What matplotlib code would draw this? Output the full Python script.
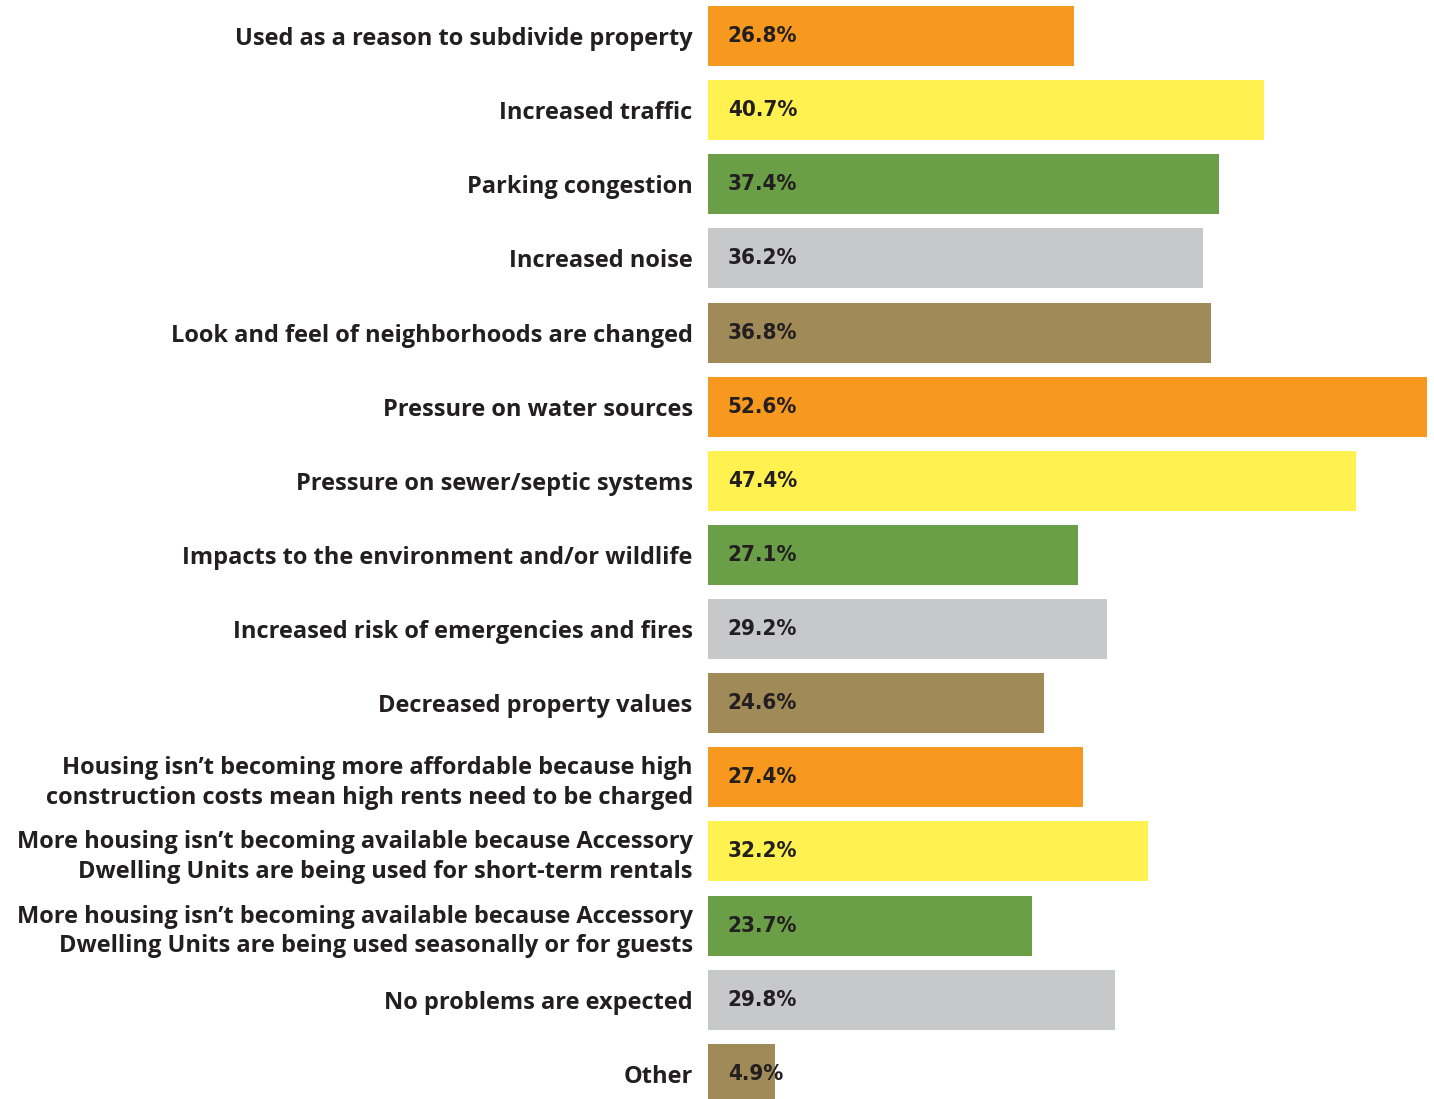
import matplotlib.pyplot as plt
from matplotlib import font_manager

# Survey responses: expected problems with Accessory Dwelling Units
categories = [
    "Used as a reason to subdivide property",
    "Increased traffic",
    "Parking congestion",
    "Increased noise",
    "Look and feel of neighborhoods are changed",
    "Pressure on water sources",
    "Pressure on sewer/septic systems",
    "Impacts to the environment and/or wildlife",
    "Increased risk of emergencies and fires",
    "Decreased property values",
    "Housing isn\u2019t becoming more affordable because high\nconstruction costs mean high rents need to be charged",
    "More housing isn\u2019t becoming available because Accessory\nDwelling Units are being used for short-term rentals",
    "More housing isn\u2019t becoming available because Accessory\nDwelling Units are being used seasonally or for guests",
    "No problems are expected",
    "Other",
]
percent = [26.8, 40.7, 37.4, 36.2, 36.8, 52.6, 47.4, 27.1, 29.2, 24.6,
           27.4, 32.2, 23.7, 29.8, 4.9]

palette = ["#F7991F", "#FFF150", "#6A9F48", "#C7C8CA", "#A08B58"]
colors = [palette[i % len(palette)] for i in range(len(percent))]

# condensed bold face for the value labels, if one is installed
condensed = [f for f in font_manager.fontManager.ttflist
             if f.stretch == "condensed" and f.weight in ("bold", 700)]
if condensed:
    value_font = dict(fname=condensed[0].fname, size=16)
    value_size = 16
else:
    value_font = dict(family="DejaVu Sans", weight="bold", size=14)
    value_size = 14
value_prop = font_manager.FontProperties(**value_font)

fig = plt.figure(figsize=(14.34, 10.99), dpi=100)
ax = fig.add_axes([708 / 1434, 0, (1427 - 708) / 1434, 1])

ypos = list(range(len(percent)))
ax.barh(ypos, percent, height=0.81, color=colors)

for y, v in zip(ypos, percent):
    ax.text(1.45, y, f"{v}%", va="center", ha="left",
            fontproperties=value_prop, color="#231F20")

ax.set_xlim(0, 52.6)
ax.set_ylim(14.34, -0.486)
ax.set_yticks(ypos)
ax.set_yticklabels(categories, fontsize=17, fontweight="bold", color="#231F20",
                   family="Open Sans", linespacing=1.3)
ax.tick_params(axis="y", length=0, pad=11)
ax.set_xticks([])
for s in ax.spines.values():
    s.set_visible(False)

fig.savefig("out.png", dpi=100)
